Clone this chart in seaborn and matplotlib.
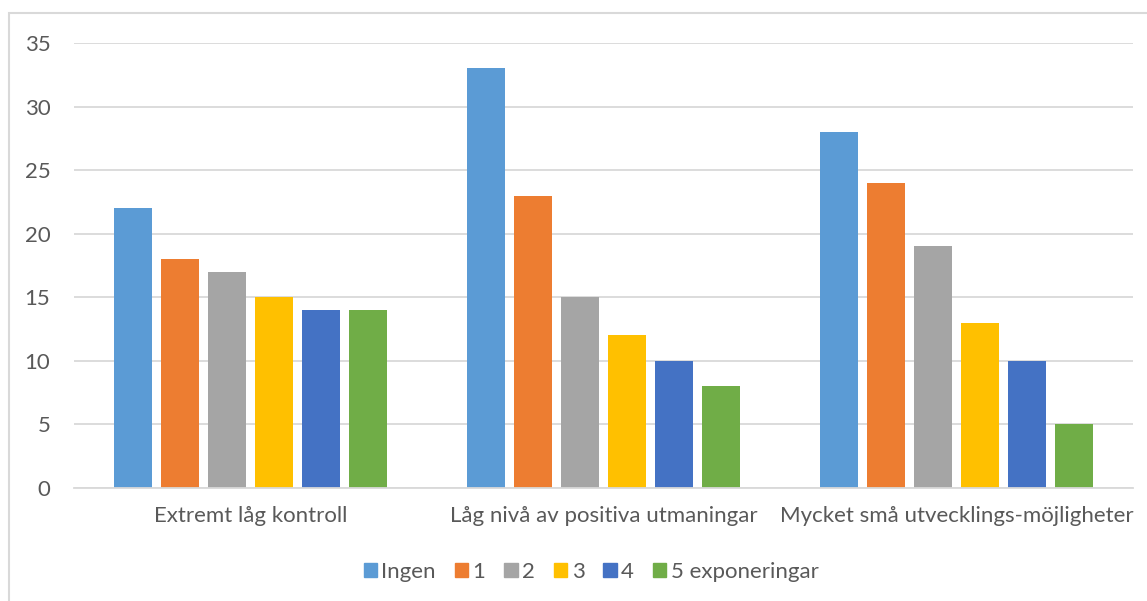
import matplotlib
matplotlib.use("Agg")
import matplotlib.pyplot as plt
import matplotlib.patches as mpatches
import seaborn as sns
import pandas as pd

categories = ["Extremt låg kontroll",
              "Låg nivå av positiva utmaningar",
              "Mycket små utvecklings-möjligheter"]
series = ["Ingen", "1", "2", "3", "4", "5 exponeringar"]
ingen = [22, 33, 28]
en = [18, 23, 24]
tva = [17, 15, 19]
tre = [15, 12, 13]
fyra = [14, 10, 10]
fem = [14, 8, 5]
yticks = [0, 5, 10, 15, 20, 25, 30, 35]

colors = ["#5B9BD5", "#ED7D31", "#A5A5A5", "#FFC000", "#4472C4", "#70AD47"]

rows = []
for name, vals in zip(series, [ingen, en, tva, tre, fyra, fem]):
    for cat, v in zip(categories, vals):
        rows.append({"kategori": cat, "serie": name, "varde": v})
df = pd.DataFrame(rows)

sns.set_theme(style="white")
plt.rcParams["font.family"] = ["Lato", "DejaVu Sans"]
text_color = "#595959"
grid_color = "#D9D9D9"
fs = 16

fig = plt.figure(figsize=(11.47, 6.01), dpi=100)
ax = fig.add_axes([74 / 1147, 1 - 488 / 601, (1133 - 74) / 1147, (488 - 43) / 601])

sns.barplot(data=df, x="kategori", y="varde", hue="serie", order=categories,
            hue_order=series, palette=colors, width=0.8, gap=0.19,
            saturation=1, linewidth=0, ax=ax, legend=False)

ax.set_ylim(0, 35)
ax.set_xlim(-0.5, 2.5)
ax.set_yticks(yticks)
ax.set_yticklabels([str(t) for t in yticks])
ax.yaxis.grid(True, color=grid_color, linewidth=1.3)
ax.set_axisbelow(True)
for s in ["top", "right", "left"]:
    ax.spines[s].set_visible(False)
ax.spines["bottom"].set_color(grid_color)
ax.spines["bottom"].set_linewidth(1.3)
ax.tick_params(axis="both", length=0, colors=text_color, labelsize=fs)
ax.tick_params(axis="y", pad=17)
ax.tick_params(axis="x", pad=13)
ax.set_xlabel("")
ax.set_ylabel("")

handles = [mpatches.Patch(color=c, label=s) for c, s in zip(colors, series)]
leg = fig.legend(handles=handles, loc="center", bbox_to_anchor=(591 / 1147, 1 - 572 / 601),
                 ncol=6, frameon=False, handlelength=0.6, handleheight=0.6,
                 handletextpad=0.2, columnspacing=0.85, fontsize=fs)
for t in leg.get_texts():
    t.set_color(text_color)

# light frame around the chart area
frame = mpatches.Rectangle((9 / 1147, -0.1), 1.2, 1 - 13 / 601 + 0.1,
                           transform=fig.transFigure, fill=False,
                           edgecolor="#D9D9D9", linewidth=1.5, clip_on=False)
fig.patches.append(frame)

fig.savefig("out.png", dpi=100, facecolor="white")
